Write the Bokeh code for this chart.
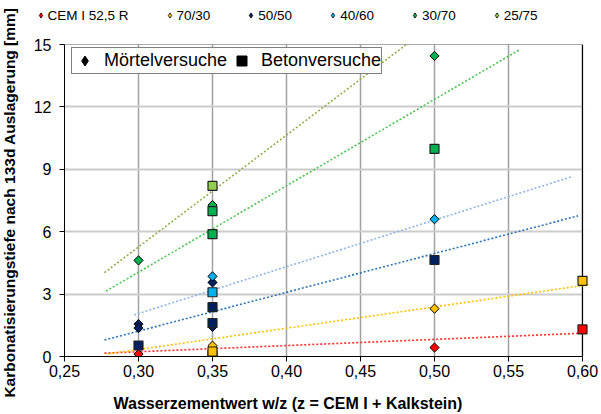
import math
from bokeh.plotting import figure
from bokeh.layouts import column, row
from bokeh.models import (ColumnDataSource, FixedTicker, CustomJSTickFormatter,
                          Legend, LegendItem, Label, Range1d, BoxAnnotation)
from bokeh.embed import file_html
from bokeh.resources import INLINE

# ---------------- data ----------------
series_names = ["CEM I 52,5 R", "70/30", "50/50", "40/60", "30/70", "25/75"]
series_colors = ["#ff0000", "#ffc000", "#002060", "#00b0f0", "#00b050", "#92d050"]
trend_colors = ["#ff3030", "#ffc000", "#2e75b6", "#8eb4e3", "#4cc552", "#8fb04a"]

# Mörtelversuche (diamonds) and Betonversuche (squares): w/z and depth [mm]
cem_m_wz = [0.30, 0.35, 0.50]
cem_m_d = [0.12, 0.08, 0.43]
cem_b_wz = [0.35, 0.60]
cem_b_d = [0.05, 1.30]

k70_m_wz = [0.35, 0.50]
k70_m_d = [0.52, 2.30]
k70_b_wz = [0.35, 0.60]
k70_b_d = [0.24, 3.64]

k50_m_wz = [0.30, 0.30, 0.35, 0.35]
k50_m_d = [1.56, 1.37, 3.56, 1.42]
k50_b_wz = [0.30, 0.35, 0.35, 0.50]
k50_b_d = [0.53, 2.37, 1.61, 4.64]

k40_m_wz = [0.35, 0.50]
k40_m_d = [3.85, 6.60]
k40_b_wz = [0.35]
k40_b_d = [3.09]

k30_m_wz = [0.30, 0.35, 0.50]
k30_m_d = [4.62, 7.28, 14.45]
k30_b_wz = [0.35, 0.35, 0.50]
k30_b_d = [6.99, 5.88, 9.98]

k25_m_wz = []
k25_m_d = []
k25_b_wz = [0.35]
k25_b_d = [8.20]

mortar_wz = [cem_m_wz, k70_m_wz, k50_m_wz, k40_m_wz, k30_m_wz, k25_m_wz]
mortar_d = [cem_m_d, k70_m_d, k50_m_d, k40_m_d, k30_m_d, k25_m_d]
beton_wz = [cem_b_wz, k70_b_wz, k50_b_wz, k40_b_wz, k30_b_wz, k25_b_wz]
beton_d = [cem_b_d, k70_b_d, k50_b_d, k40_b_d, k30_b_d, k25_b_d]

# linear trend lines (start / end)
trend_wz0 = [0.277, 0.279, 0.277, 0.297, 0.278, 0.277]
trend_wz1 = [0.597, 0.605, 0.597, 0.593, 0.558, 0.481]
trend_d0 = [0.16, 0.12, 0.79, 2.00, 3.14, 4.03]
trend_d1 = [1.11, 3.46, 6.76, 8.65, 14.77, 15.00]

wz_ticks = [0.25, 0.30, 0.35, 0.40, 0.45, 0.50, 0.55, 0.60]
d_ticks = [0, 3, 6, 9, 12, 15]

x_title = "Wasserzementwert w/z   (z = CEM I + Kalkstein)"
y_title = "Karbonatisierungstiefe nach 133d Auslagerung [mm]"

FONT = "Liberation Sans"

# ---------------- geometry ----------------
W, H = 601, 414
YL_W = 20          # strip for the y title
TOP_H = 30         # strip for the series legend
BOT_H = 26         # strip for the x title
MAIN_W = W - YL_W
MAIN_H = H - TOP_H - BOT_H

X_LO, X_HI = wz_ticks[0], wz_ticks[-1]
px_per_unit = 518 / (X_HI - X_LO)
x_end = X_LO + 525 / px_per_unit   # a few px beyond 0,60 so edge markers are not cut


def strip(width, height):
    f = figure(width=width, height=height, x_range=Range1d(0, 1), y_range=Range1d(0, 1),
               output_backend="svg", toolbar_location=None, min_border=0,
               x_axis_location=None, y_axis_location=None)
    f.min_border_left = f.min_border_right = f.min_border_top = f.min_border_bottom = 0
    f.grid.visible = False
    f.outline_line_color = None
    f.background_fill_color = "white"
    f.border_fill_color = "white"
    f.frame_align = False
    return f


# ---------------- main figure ----------------
p = figure(width=MAIN_W, height=MAIN_H, x_range=Range1d(X_LO, x_end), y_range=Range1d(0, 15),
           output_backend="svg", toolbar_location=None,
           min_border_left=64 - YL_W, min_border_right=12, min_border_top=44 - TOP_H,
           min_border_bottom=MAIN_H - (356 - TOP_H))
p.frame_align = False
p.background_fill_color = "white"
p.border_fill_color = "white"
p.outline_line_color = None

p.xaxis.ticker = FixedTicker(ticks=wz_ticks)
p.xaxis.formatter = CustomJSTickFormatter(code="return tick.toFixed(2).replace('.', ',');")
p.xaxis.bounds = (X_LO, X_HI)
p.yaxis.ticker = FixedTicker(ticks=d_ticks)
p.xgrid.ticker = FixedTicker(ticks=wz_ticks)
p.ygrid.ticker = FixedTicker(ticks=d_ticks)

for ax in (p.xaxis, p.yaxis):
    ax.axis_line_color = "black"
    ax.axis_line_width = 1
    ax.major_tick_line_color = "black"
    ax.major_tick_out = 5
    ax.major_tick_in = 0
    ax.minor_tick_line_color = None
    ax.major_label_text_font = FONT
    ax.major_label_text_font_size = "16px"
    ax.major_label_text_color = "black"

p.xaxis.major_label_standoff = 3
p.yaxis.major_label_standoff = 8

p.xgrid.grid_line_color = "#a0a0a0"
p.xgrid.grid_line_width = 1.5
p.ygrid.grid_line_color = "#cccccc"
p.ygrid.grid_line_width = 2

# white cover for the small strip right of w/z = 0,60 (beneath the marks)
p.add_layout(BoxAnnotation(left=X_HI, level="underlay", fill_color="white", fill_alpha=1,
                           line_color=None))

# frame border (top and right)
p.segment(x0=[X_LO], y0=[d_ticks[-1]], x1=[X_HI], y1=[d_ticks[-1]],
          line_color="#555555", line_width=1.2)
p.segment(x0=[X_HI], y0=[d_ticks[0]], x1=[X_HI], y1=[d_ticks[-1]],
          line_color="black", line_width=1.2)

# trend lines
for i in range(len(series_names)):
    p.line(x=[trend_wz0[i], trend_wz1[i]], y=[trend_d0[i], trend_d1[i]],
           line_color=trend_colors[i], line_width=1.6, line_dash="2 2")

# points
for i in range(len(series_names)):
    p.scatter(x=mortar_wz[i], y=mortar_d[i], marker="square", angle=math.pi / 4, size=6.5,
              fill_color=series_colors[i], line_color="black", line_width=1)
    p.scatter(x=beton_wz[i], y=beton_d[i], marker="square", size=9,
              fill_color=series_colors[i], line_color="#222222", line_width=1.2)

nan_src = ColumnDataSource(data=dict(x=[float("nan")], y=[float("nan")]))

rd = p.scatter(x="x", y="y", source=nan_src, marker="diamond", size=6,
               fill_color="black", line_color="black")
rs = p.scatter(x="x", y="y", source=nan_src, marker="square", size=6,
               fill_color="black", line_color="black")
inner_legend = Legend(items=[LegendItem(label="Mörtelversuche", renderers=[rd]),
                             LegendItem(label="Betonversuche", renderers=[rs])],
                      orientation="horizontal", location=(7, 282),
                      glyph_width=25, glyph_height=25, label_standoff=7, spacing=2,
                      padding=0, margin=0, label_text_font=FONT, label_text_font_size="18px",
                      label_text_color="black", border_line_color="black",
                      border_line_width=1, background_fill_color="white",
                      background_fill_alpha=1, label_height=25)
p.add_layout(inner_legend, "center")

# ---------------- top legend strip ----------------
lf = strip(MAIN_W, TOP_H)
top_items = []
for i, name in enumerate(series_names):
    r = lf.scatter(x="x", y="y", source=nan_src, marker="diamond", size=6,
                   fill_color=series_colors[i], line_color="black", line_width=0.8)
    top_items.append(LegendItem(label=name, renderers=[r]))

top_legend = Legend(items=top_items, orientation="horizontal", location=(33.5 - YL_W, 5),
                    glyph_width=13, glyph_height=20, label_standoff=1, spacing=34,
                    padding=0, margin=0, label_text_font=FONT, label_text_font_size="13.5px",
                    label_text_color="black", border_line_color=None,
                    background_fill_alpha=0)
lf.add_layout(top_legend, "center")

# ---------------- x title strip ----------------
bf = strip(MAIN_W, BOT_H)
bf.add_layout(Label(x=113 - YL_W, y=BOT_H - 15, x_units="screen", y_units="screen",
                    text=x_title, text_font=FONT, text_font_style="bold",
                    text_font_size="16px", text_color="black",
                    text_align="left", text_baseline="middle"))

# ---------------- y title strip ----------------
yf = strip(YL_W, H)
yf.add_layout(Label(x=9, y=H - 202, x_units="screen", y_units="screen", angle=math.pi / 2,
                    text=y_title, text_font=FONT, text_font_style="bold",
                    text_font_size="15.5px", text_color="black",
                    text_align="center", text_baseline="middle"))

layout = row(yf, column(lf, p, bf, spacing=0), spacing=0)
open("out.html", "w").write(file_html(layout, INLINE))
